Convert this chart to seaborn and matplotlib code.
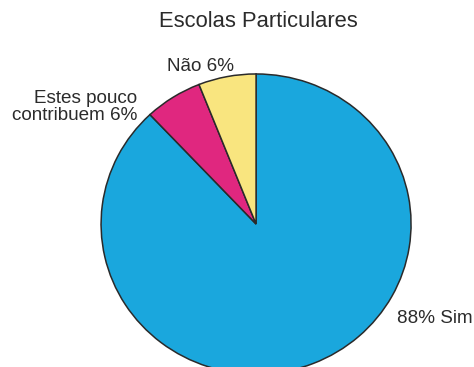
import matplotlib
matplotlib.use("Agg")
import matplotlib.pyplot as plt
import seaborn as sns

sns.set_theme(style="white")
plt.rcParams["font.family"] = ["Liberation Sans", "DejaVu Sans"]

title = "Escolas Particulares"
categories = ["Sim", "Estes pouco contribuem", "Não"]
values = [88, 6, 6]
labels = ["88% Sim", "Estes pouco\ncontribuem 6%", "Não 6%"]
colors = ["#1aa7dd", "#e0277f", "#f9e57f"]

fig = plt.figure(figsize=(4.74, 3.67), dpi=100)
ax = fig.add_axes([0, 0, 1, 1])

# clockwise from 12 o'clock: Sim, then Não ends back at the top
ax.pie(values, colors=colors, startangle=90, counterclock=False,
       radius=1.0, wedgeprops=dict(edgecolor="#2a2a2a", linewidth=1.1))

ax.set_xlim(-1.652, 1.406)
ax.set_ylim(-0.953, 1.493)
ax.set_aspect("auto")
ax.axis("off")

txt = "#2b2b2b"
fs = 13.6
ax.text(0.91, -0.633, labels[0], ha="left", va="center", fontsize=fs, color=txt)
ax.text(-0.768, 0.78, labels[1], ha="right", va="center", fontsize=fs,
        color=txt, linespacing=1.0)
ax.text(-0.361, 1.047, labels[2], ha="center", va="center", fontsize=fs, color=txt)
ax.text(0.013, 1.353, title, ha="center", va="center", fontsize=15.8, color=txt)

fig.savefig("out.png", dpi=100)
